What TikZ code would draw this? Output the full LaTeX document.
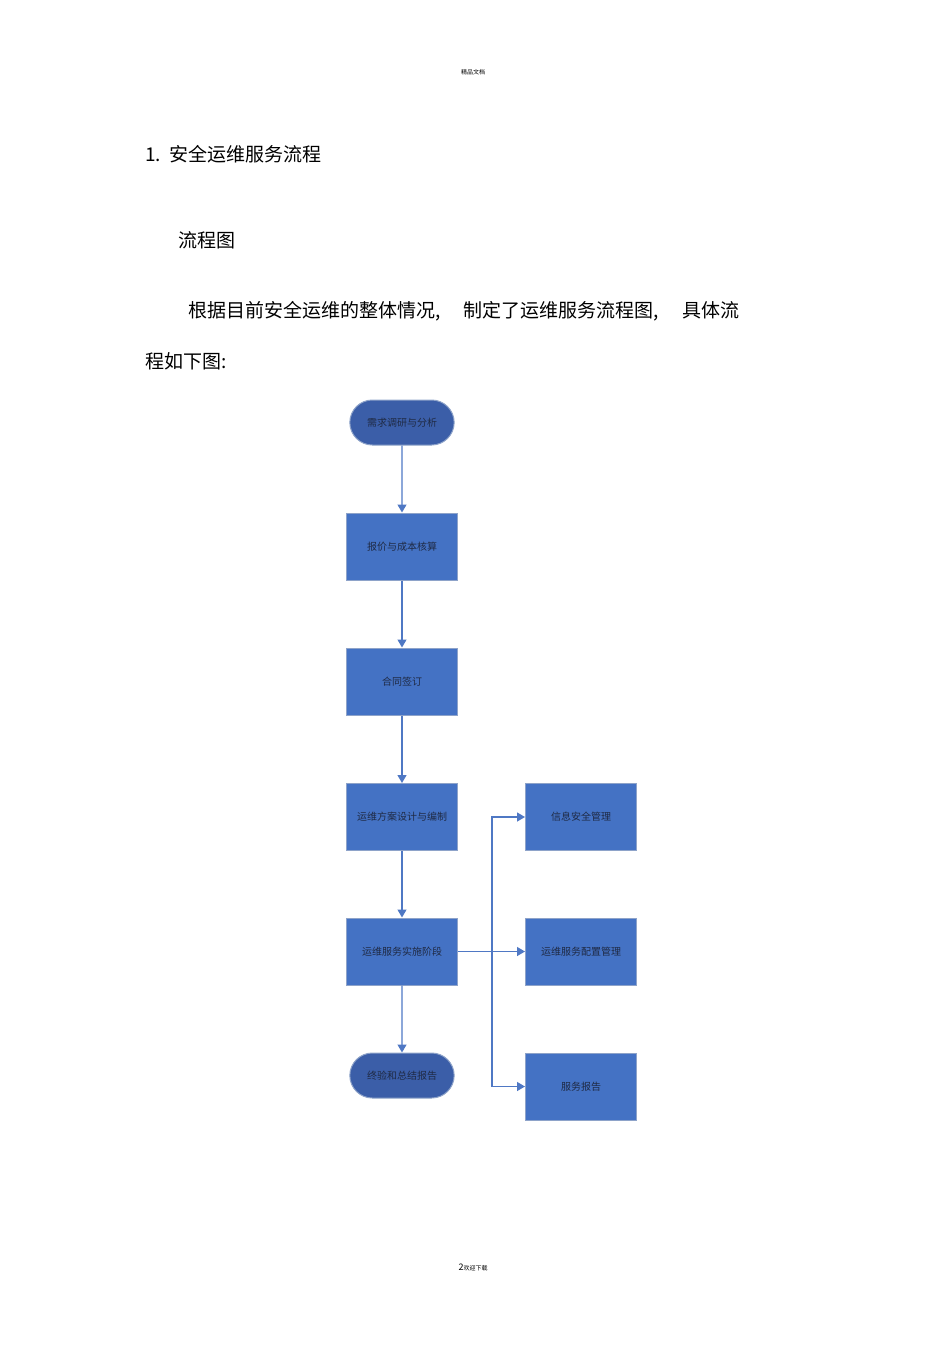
\documentclass[tikz,border=0pt]{standalone}
\usepackage{fontspec}
\newfontfamily\cjk{Noto Sans CJK SC}
\usetikzlibrary{arrows.meta,shapes.misc}
\definecolor{boxf}{HTML}{4472C4}
\definecolor{termf}{HTML}{3B5EA8}
\definecolor{edgec}{HTML}{8EA3C9}
\definecolor{linec}{HTML}{4F78C4}
\definecolor{txt}{HTML}{1F2A44}
\tikzset{
 proc/.style={draw=edgec,line width=1pt,fill=boxf,minimum width=111pt,minimum height=67pt,inner sep=3pt,text width=103pt,align=center,font=\cjk\fontsize{10}{14}\selectfont,text=txt},
 term/.style={draw=edgec,line width=1pt,fill=termf,rounded rectangle,minimum width=111pt,minimum height=45pt,font=\cjk\fontsize{10}{14}\selectfont,text=txt},
 conn/.style={draw=linec,line width=1.3pt,-{Triangle[length=8pt,width=9pt]}},
 body/.style={font=\cjk\fontsize{19}{22}\selectfont,anchor=west,text=black,inner sep=0pt}
}
\begin{document}
\begin{tikzpicture}[x=1pt,y=-1pt]
\useasboundingbox (0,0) rectangle (950,1345);
\node[font=\cjk\fontsize{6}{7}\selectfont] (hdr) at (473,72) {精品文档};
\node[body] (t1) at (145,154) {1.\ \ 安全运维服务流程};
\node[body] (t2) at (178,240) {流程图};
\node[body] (t3) at (188,311) {根据目前安全运维的整体情况,\quad\ 制定了运维服务流程图,\quad\ 具体流};
\node[body] (t4) at (145,361) {程如下图:};
\node[term] (a) at (402,422.5) {需求调研与分析};
\node[proc] (b) at (402,546.5) {报价与成本核算};
\node[proc] (c) at (402,681.5) {合同签订};
\node[proc] (d) at (402,817) {运维方案设计与编制};
\node[proc] (e) at (402,951.5) {运维服务实施阶段};
\node[term] (f) at (402,1075.5) {终验和总结报告};
\node[proc] (g) at (581,817) {信息安全管理};
\node[proc] (h) at (581,951.5) {运维服务配置管理};
\node[proc] (i) at (581,1086.5) {服务报告};
\coordinate (j) at (492,951.5);
\draw[conn] (a) -- (b);
\draw[conn] (b) -- (c);
\draw[conn] (c) -- (d);
\draw[conn] (d) -- (e);
\draw[conn] (e) -- (f);
\draw[conn] (e) -- (h);
\draw[conn] (j) |- (g);
\draw[conn] (j) |- (i);
\node[font=\cjk\fontsize{6}{7}\selectfont] (ftr) at (473,1267) {{\fontsize{9}{10}\selectfont 2}欢迎下载};
\end{tikzpicture}
\end{document}
